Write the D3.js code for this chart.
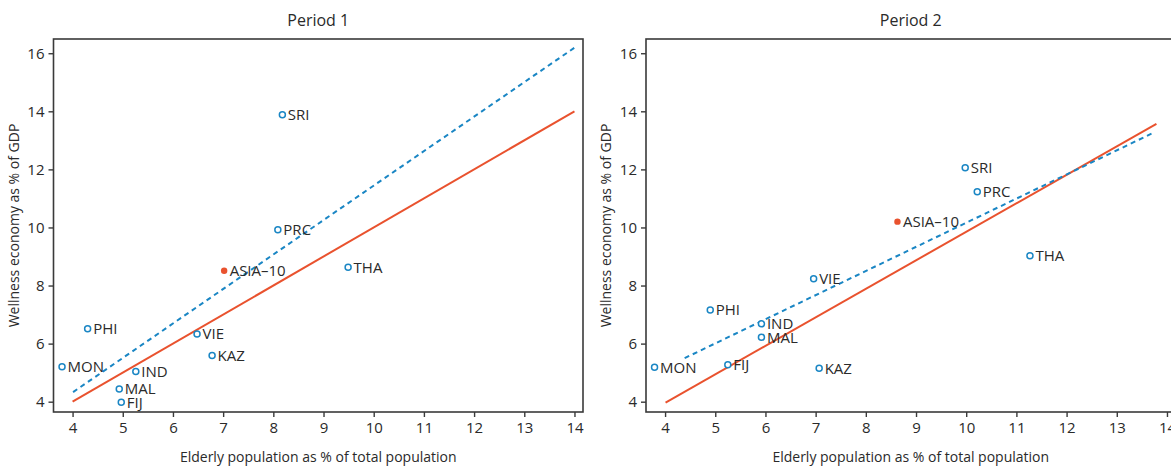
<!DOCTYPE html>
<html><head><meta charset="utf-8">
<script src="https://cdn.jsdelivr.net/npm/d3@7"></script>
<style>
body{margin:0;background:#fff;}
svg{display:block;font-family:"Open Sans",sans-serif;}
</style></head><body>
<svg id="chart" width="1171" height="466"></svg>
<script>
// ---- data ----
const countries = ["SRI","PRC","ASIA–10","THA","PHI","VIE","KAZ","MON","IND","MAL","FIJ"];
const p1x = [8.18, 8.09, 7.02, 9.49, 4.30, 6.48, 6.78, 3.79, 5.26, 4.93, 4.97];
const p1y = [13.88, 9.92, 8.51, 8.63, 6.51, 6.33, 5.59, 5.20, 5.04, 4.44, 3.98];
const p2x = [9.98, 10.22, 8.63, 11.27, 4.90, 6.96, 7.07, 3.79, 5.92, 5.92, 5.25];
const p2y = [12.06, 11.23, 10.20, 9.03, 7.16, 8.23, 5.15, 5.19, 6.68, 6.22, 5.27];
// fitted lines: [x1, y1, x2, y2]
const p1Solid = [4, 4.0, 14, 14.0];
const p1Dashed = [4.01, 4.33, 14, 16.19];
const p2Solid = [4.01, 3.97, 13.79, 13.57];
const p2Dashed = [4.39, 5.50, 13.74, 13.27];
const xTicks = [4,5,6,7,8,9,10,11,12,13,14];
const yTicks = [4,6,8,10,12,14,16];
const titles = ["Period 1","Period 2"];
const xLabel = "Elderly population as % of total population";
const yLabel = "Wellness economy as % of GDP";

const BLUE = "#1a86c4", ORANGE = "#e9522e", INK = "#2a2a2a", FRAME = "#3a3a3a";
const svg = d3.select("#chart");
const plotTop = 39, plotBottom = 412, pw = 529.5;

const panels = [
  {x0: 53.5, xs: p1x, ys: p1y, solid: p1Solid, dashed: p1Dashed, title: titles[0]},
  {x0: 646, xs: p2x, ys: p2y, solid: p2Solid, dashed: p2Dashed, title: titles[1]}
];

panels.forEach(p => {
  const x = d3.scaleLinear().domain([3.62, 14.17]).range([p.x0, p.x0 + pw]);
  const y = d3.scaleLinear().domain([3.645, 16.49]).range([plotBottom, plotTop]);
  const g = svg.append("g");

  g.append("rect").attr("x", p.x0).attr("y", plotTop).attr("width", pw).attr("height", plotBottom - plotTop)
    .attr("fill", "none").attr("stroke", FRAME).attr("stroke-width", 1.6);

  const ax = g.append("g").attr("transform", `translate(0,${plotBottom})`)
    .call(d3.axisBottom(x).tickValues(xTicks).tickSize(5).tickPadding(5).tickFormat(d3.format("d")));
  const ay = g.append("g").attr("transform", `translate(${p.x0},0)`)
    .call(d3.axisLeft(y).tickValues(yTicks).tickSize(5).tickPadding(4).tickFormat(d3.format("d")));
  [ax, ay].forEach(a => {
    a.select(".domain").remove();
    a.selectAll(".tick line").attr("stroke", FRAME).attr("stroke-width", 1.4);
    a.selectAll(".tick text").attr("fill", INK).style("font-size", "15px").style("font-family", '"Open Sans",sans-serif');
  });

  const [a1, b1, a2, b2] = p.solid;
  g.append("line").attr("x1", x(a1)).attr("y1", y(b1)).attr("x2", x(a2)).attr("y2", y(b2))
    .attr("stroke", ORANGE).attr("stroke-width", 2);
  const [c1, d1, c2, d2] = p.dashed;
  g.append("line").attr("x1", x(c1)).attr("y1", y(d1)).attr("x2", x(c2)).attr("y2", y(d2))
    .attr("stroke", BLUE).attr("stroke-width", 2).attr("stroke-dasharray", "5,4");

  countries.forEach((c, i) => {
    const asia = c === "ASIA–10";
    g.append("circle").attr("cx", x(p.xs[i])).attr("cy", y(p.ys[i])).attr("r", asia ? 3.2 : 3)
      .attr("fill", asia ? ORANGE : "#fff").attr("stroke", asia ? "none" : BLUE).attr("stroke-width", 1.5);
    g.append("text").attr("x", x(p.xs[i]) + 5.5).attr("y", y(p.ys[i])).attr("dy", "0.36em")
      .attr("fill", INK).style("font-size", "15px").text(c);
  });

  const cx = p.x0 + pw / 2;
  g.append("text").attr("x", cx).attr("y", 26).attr("text-anchor", "middle")
    .attr("fill", INK).style("font-size", "16px").text(p.title);
  g.append("text").attr("x", cx).attr("y", 462).attr("text-anchor", "middle")
    .attr("fill", INK).style("font-size", "14px").text(xLabel);
  g.append("text").attr("transform", `translate(${p.x0 - 35},${(plotTop + plotBottom) / 2}) rotate(-90)`)
    .attr("text-anchor", "middle").attr("fill", INK).style("font-size", "14px").text(yLabel);
});
</script>
</body></html>
